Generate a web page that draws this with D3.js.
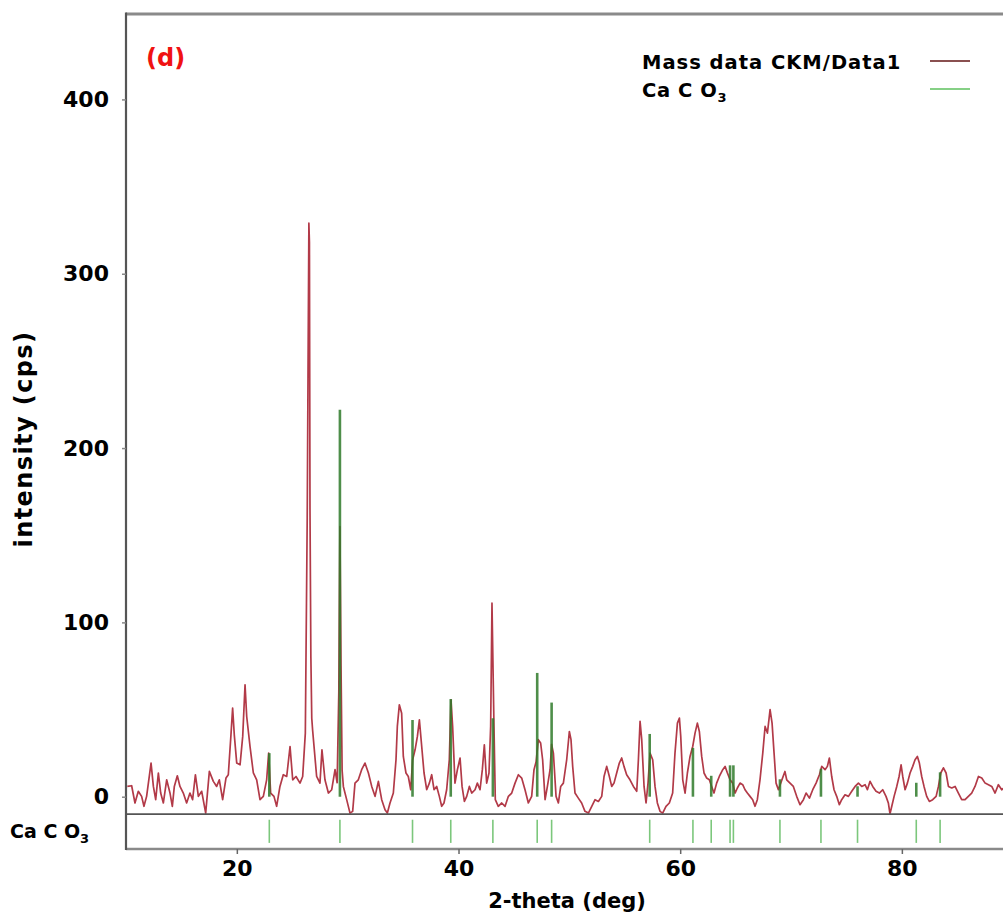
<!DOCTYPE html>
<html>
<head>
<meta charset="utf-8">
<script src="https://cdn.jsdelivr.net/npm/d3@7/dist/d3.min.js"></script>
<style>
  html, body { margin: 0; padding: 0; background: #fff; }
  svg { display: block; }
  text { font-family: "DejaVu Sans", Verdana, sans-serif; font-weight: bold; }
</style>
</head>
<body>
<svg id="chart" width="1003" height="917"></svg>
<script>
// XRD scan: 2-theta (deg) and measured intensity (cps)
const twoTheta = [
  10.12, 10.51, 10.81, 11.11, 11.41, 11.62, 11.86, 12.26, 12.47, 12.68,
  12.92, 13.13, 13.37, 13.67, 13.97, 14.18, 14.36, 14.63, 14.87, 15.17,
  15.47, 15.77, 16.01, 16.26, 16.53, 16.83, 17.19, 17.52, 17.88, 18.18,
  18.42, 18.72, 19.02, 19.23, 19.47, 19.62, 19.77, 19.99, 20.29, 20.53,
  20.74, 20.89, 21.19, 21.49, 21.79, 22.09, 22.39, 22.69, 22.87, 23.05,
  23.35, 23.59, 23.89, 24.19, 24.50, 24.80, 25.04, 25.34, 25.70, 25.94,
  26.18, 26.35, 26.42, 26.50, 26.55, 26.60, 26.68, 26.76, 26.84, 27.20,
  27.50, 27.68, 27.95, 28.26, 28.56, 28.86, 29.05, 29.20, 29.30, 29.40,
  29.50, 29.61, 29.91, 30.21, 30.45, 30.66, 30.96, 31.26, 31.56, 31.87,
  32.17, 32.47, 32.77, 33.07, 33.37, 33.58, 33.82, 34.12, 34.36, 34.48,
  34.66, 34.87, 35.02, 35.26, 35.47, 35.69, 35.86, 36.08, 36.29, 36.47,
  36.68, 36.89, 37.13, 37.37, 37.58, 37.79, 38.03, 38.27, 38.48, 38.69,
  38.93, 39.17, 39.32, 39.47, 39.68, 39.90, 40.14, 40.32, 40.53, 40.74,
  40.98, 41.19, 41.49, 41.70, 41.94, 42.15, 42.33, 42.54, 42.75, 42.90,
  43.02, 43.20, 43.32, 43.59, 43.90, 44.20, 44.50, 44.80, 45.10, 45.40,
  45.70, 46.00, 46.30, 46.60, 46.81, 47.00, 47.20, 47.41, 47.59, 47.81,
  48.02, 48.26, 48.40, 48.56, 48.80, 49.01, 49.22, 49.46, 49.76, 50.00,
  50.15, 50.30, 50.51, 50.81, 51.11, 51.41, 51.72, 52.02, 52.32, 52.62,
  52.92, 53.13, 53.37, 53.61, 53.82, 54.03, 54.27, 54.51, 54.72, 54.93,
  55.17, 55.47, 55.78, 56.08, 56.23, 56.38, 56.53, 56.74, 56.92, 57.10,
  57.28, 57.52, 57.73, 57.94, 58.18, 58.42, 58.72, 59.02, 59.32, 59.53,
  59.75, 59.93, 60.05, 60.23, 60.44, 60.65, 60.89, 61.13, 61.34, 61.55,
  61.73, 61.94, 62.15, 62.39, 62.63, 62.84, 63.05, 63.29, 63.53, 63.84,
  64.05, 64.26, 64.50, 64.74, 64.95, 65.16, 65.40, 65.64, 65.85, 66.06,
  66.30, 66.54, 66.75, 66.96, 67.20, 67.45, 67.66, 67.87, 68.11, 68.29,
  68.47, 68.65, 68.86, 69.07, 69.45, 69.61, 69.91, 70.21, 70.51, 70.81,
  71.12, 71.36, 71.66, 71.96, 72.26, 72.56, 72.77, 73.07, 73.28, 73.46,
  73.67, 73.88, 74.12, 74.36, 74.57, 74.87, 75.18, 75.48, 75.78, 76.08,
  76.38, 76.68, 76.89, 77.13, 77.37, 77.67, 77.97, 78.27, 78.57, 78.78,
  78.93, 79.09, 79.30, 79.54, 79.75, 79.93, 80.08, 80.29, 80.50, 80.74,
  80.98, 81.19, 81.40, 81.58, 81.79, 82.00, 82.24, 82.48, 82.78, 83.09,
  83.30, 83.51, 83.75, 83.99, 84.20, 84.50, 84.80, 85.10, 85.40, 85.70,
  86.00, 86.30, 86.60, 86.91, 87.21, 87.51, 87.81, 88.11, 88.41, 88.71,
  89.01, 89.40, 89.80
];
const intensity = [
  5.9, 6.3, -3.6, 3.1, 0.2, -5.5, 0.2, 19.3, 5.9, -1.7,
  13.6, 2.1, -3.6, 9.7, 2.1, -5.5, 5.9, 12.0, 5.9, 2.1,
  -3.6, 2.1, -1.7, 12.6, 0.2, 3.1, -9.4, 14.5, 8.8, 5.9,
  9.7, -1.7, 10.7, 12.6, 35.5, 50.8, 35.5, 19.3, 18.3, 34.6,
  64.2, 46.0, 28.8, 13.6, 9.7, -1.7, 0.2, 9.7, 25.0, 2.1,
  0.2, -5.5, 5.9, 12.6, 11.6, 28.8, 9.7, 11.6, 7.8, 11.6,
  36.5, 160, 240, 329, 318, 165, 80, 45, 38, 11.6,
  7.8, 26.9, 9.7, 2.1, 4.0, 15.5, 8, 60, 155, 75,
  15, 5.9, -1.7, -9.4, -8.4, 7.8, 9.7, 15.5, 19.3, 13.6,
  5.9, 0.2, 8.8, -1.7, -7.5, -9.4, -3.6, 2.1, 21.2, 40.3,
  52.7, 47.9, 23.1, 13.6, 11.6, 4.0, 21.2, 26.9, 34.6, 44.1,
  28.8, 13.6, 4.0, 7.8, 12.6, 4.0, 5.9, 0.2, -5.5, -3.6,
  4.0, 21.2, 55.6, 40.3, 7.8, 15.5, 22.2, 5.9, -2.7, 0.2,
  5.9, 2.1, 4.0, 7.8, 4.0, 15.5, 29.8, 7.8, 13.6, 40.3,
  111, 40.3, -1.7, -5.5, -3.6, -5.5, 0.2, 2.1, 7.8, 12.6,
  10.7, 4.0, -3.6, 0.2, 15.5, 20, 32.7, 30.8, 21.2, -1.7,
  5.9, 15.5, 30, 25.0, 0.2, -3.6, 5.9, 7.8, 21.2, 37.4,
  32.7, 17.4, 2.1, -0.8, -3.6, -8.4, -9.4, -5.5, -1.7, -2.7,
  0.2, 11.6, 17.4, 11.6, 5.9, 7.8, 13.6, 19.3, 22.2, 17.4,
  12.6, 9.7, 5.9, 3.1, 21.2, 43.2, 32.7, 5.9, -3.6, 8,
  25.0, 21.2, 5.9, -3.6, -8.4, -9.4, -5.5, -3.6, 2.1, 25.0,
  42.2, 45.1, 34.6, 9.7, 2.1, 13.6, 23.1, 28.8, 36.5, 42.2,
  37.4, 23.1, 13.6, 10.7, 9.7, 5.9, 2.1, 7.8, 11.6, 15.5,
  17.4, 13.6, 9.7, 7.8, 2.1, 5.0, 7.8, 6.9, 4.0, 2.1,
  0.2, -1.7, -5.5, -1.7, 9.7, 25.0, 40.3, 36.5, 49.9, 42.2,
  25.0, 7.8, 4.0, 7.8, 14.5, 9.7, 7.8, 5.9, 0.2, -4.6,
  -1.7, 2.1, -0.8, 4.0, 7.8, 12.6, 17.4, 15.5, 17.4, 22.2,
  11.6, 4.0, 0.2, -4.6, -1.7, 1.1, 0.2, 3.1, 5.9, 7.8,
  5.9, 6.9, 4.0, 8.8, 5.9, 3.1, 2.1, 4.0, 0.2, -3.6,
  -9.8, -5.5, 0.2, 5.9, 11.6, 18.3, 11.6, 4.0, 7.8, 13.6,
  17.4, 21.2, 23.1, 19.3, 11.6, 5.9, 0.2, -2.7, -1.7, 0.2,
  5.9, 13.6, 16.6, 13.6, 5.9, 5.0, 5.9, 2.1, -1.7, -1.7,
  0.2, 2.1, 5.9, 11.6, 10.7, 7.8, 6.9, 5.9, 2.1, 6.9,
  4.0, 6.0, 3.0
];

// Reference pattern (Ca C O3): peak positions (deg) and relative intensities
const refPositions = [22.93, 29.30, 35.85, 39.30, 43.10, 47.10, 48.40, 57.25, 61.15,
                      62.80, 64.50, 64.80, 69.00, 72.70, 76.00, 81.30, 83.45];
const refHeights   = [25, 222, 44, 56, 45, 71, 54, 36, 28,
                      12, 18, 18, 10, 16, 6, 8, 14];

const xTickValues = [20, 40, 60, 80];
const yTickValues = [0, 100, 200, 300, 400];

const svg = d3.select("#chart");

const x = d3.scaleLinear().domain([10, 90]).range([126, 1012.7]);
const y = d3.scaleLinear().domain([-30, 449]).range([849, 14]);

const plot = svg.append("g");

// clip region for the pattern area
svg.append("defs").append("clipPath").attr("id", "plotClip")
  .append("rect")
  .attr("x", x(10)).attr("y", y(449))
  .attr("width", x(90) - x(10)).attr("height", y(-10) - y(449));

// measured pattern
const series = twoTheta.map((t, i) => [t, intensity[i]]);
plot.append("path")
  .datum(series)
  .attr("clip-path", "url(#plotClip)")
  .attr("fill", "none")
  .attr("stroke", "#b23a48")
  .attr("stroke-width", 1.7)
  .attr("stroke-linejoin", "round")
  .attr("d", d3.line().x(d => x(d[0])).y(d => y(d[1])));

// reference sticks inside the plot
plot.append("g").selectAll("line")
  .data(refPositions.map((p, i) => [p, refHeights[i]]))
  .join("line")
  .attr("x1", d => x(d[0])).attr("x2", d => x(d[0]))
  .attr("y1", y(0)).attr("y2", d => y(d[1]))
  .attr("stroke", "#2f7a2a")
  .attr("stroke-opacity", 0.85)
  .attr("stroke-width", 2.6);

// reference tick strip below the pattern
plot.append("g").selectAll("line")
  .data(refPositions)
  .join("line")
  .attr("x1", d => x(d)).attr("x2", d => x(d))
  .attr("y1", y(-13.2)).attr("y2", y(-26.5))
  .attr("stroke", "#7cc77c")
  .attr("stroke-width", 1.6);

// strip separator
svg.append("line")
  .attr("x1", x(10)).attr("x2", 1003)
  .attr("y1", y(-10)).attr("y2", y(-10))
  .attr("stroke", "#555").attr("stroke-width", 1.6);

// frame: top, left, bottom
svg.append("line")
  .attr("x1", x(10)).attr("x2", 1003)
  .attr("y1", y(449)).attr("y2", y(449))
  .attr("stroke", "#8a8a8a").attr("stroke-width", 3);
svg.append("line")
  .attr("x1", x(10)).attr("x2", 1003)
  .attr("y1", y(-30)).attr("y2", y(-30))
  .attr("stroke", "#8a8a8a").attr("stroke-width", 2.4);
svg.append("line")
  .attr("x1", x(10)).attr("x2", x(10))
  .attr("y1", y(449) - 1.5).attr("y2", y(-30) + 1)
  .attr("stroke", "#555").attr("stroke-width", 2.2);

// axes
const xAxis = d3.axisBottom(x).tickValues(xTickValues).tickSize(5).tickPadding(6)
  .tickFormat(d3.format("d"));
const gx = svg.append("g").attr("transform", `translate(0,${y(-30)})`).call(xAxis);
gx.select(".domain").remove();
gx.selectAll(".tick line").attr("stroke", "#666").attr("stroke-width", 1.5);
gx.selectAll(".tick text").attr("fill", "#000").style("font-size", "22px")
  .style("font-family", "DejaVu Sans, sans-serif").style("font-weight", "bold");

const yAxis = d3.axisLeft(y).tickValues(yTickValues).tickSize(4).tickPadding(13)
  .tickFormat(d3.format("d"));
const gy = svg.append("g").attr("transform", `translate(${x(10)},0)`).call(yAxis);
gy.select(".domain").remove();
gy.selectAll(".tick line").attr("stroke", "#888").attr("stroke-width", 1.5);
gy.selectAll(".tick text").attr("fill", "#000").style("font-size", "22px")
  .style("font-family", "DejaVu Sans, sans-serif").style("font-weight", "bold");

// axis titles
svg.append("text")
  .attr("x", 567).attr("y", 908)
  .attr("text-anchor", "middle")
  .style("font-size", "21px")
  .text("2-theta (deg)");

svg.append("text")
  .attr("transform", "translate(32,439) rotate(-90)")
  .attr("text-anchor", "middle")
  .style("font-size", "24px")
  .style("letter-spacing", "1.4px")
  .text("intensity (cps)");

// panel tag
svg.append("text")
  .attr("x", 146).attr("y", 66)
  .attr("fill", "#f01212")
  .style("font-size", "24px")
  .text("(d)");

// strip label
const strip = svg.append("text").attr("x", 10).attr("y", 838).style("font-size", "19px");
strip.append("tspan").text("Ca C O");
strip.append("tspan").attr("dy", 5).style("font-size", "13px").text("3");

// legend
svg.append("text").attr("x", 642).attr("y", 69)
  .style("font-size", "19.5px").style("letter-spacing", "1px")
  .text("Mass data CKM/Data1");
const leg2 = svg.append("text").attr("x", 642).attr("y", 97)
  .style("font-size", "19.5px").style("letter-spacing", "0.6px");
leg2.append("tspan").text("Ca C O");
leg2.append("tspan").attr("dy", 5).style("font-size", "13px").text("3");

svg.append("line").attr("x1", 930).attr("x2", 970).attr("y1", 61).attr("y2", 61)
  .attr("stroke", "#8a5050").attr("stroke-width", 1.8);
svg.append("line").attr("x1", 930).attr("x2", 970).attr("y1", 89).attr("y2", 89)
  .attr("stroke", "#86d086").attr("stroke-width", 1.8);
</script>
</body>
</html>
